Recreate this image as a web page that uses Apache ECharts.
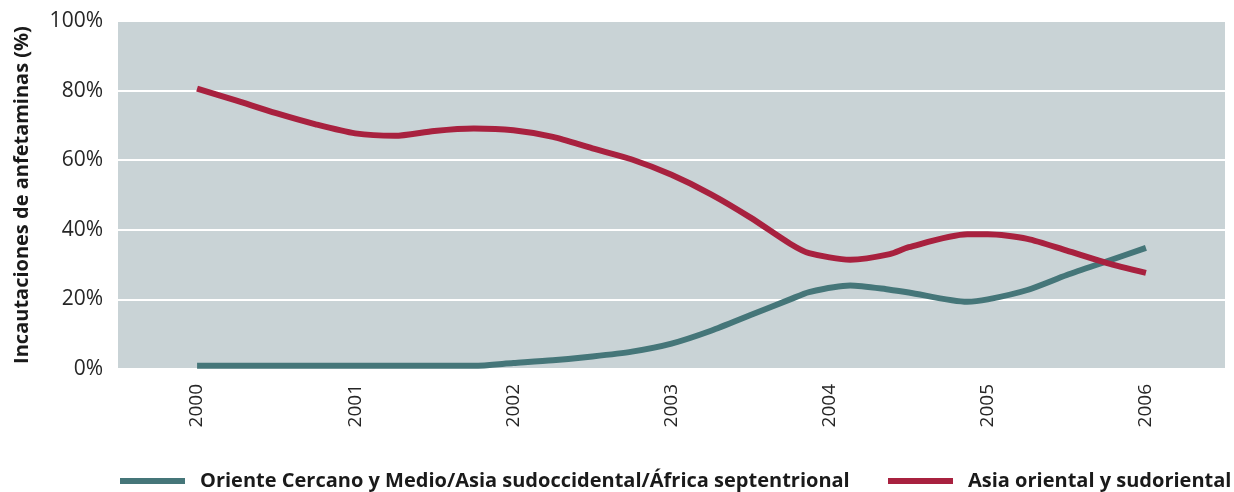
<!DOCTYPE html>
<html>
<head>
<meta charset="utf-8">
<script src="https://cdn.jsdelivr.net/npm/echarts@6/dist/echarts.min.js"></script>
<style>
  html, body { margin: 0; padding: 0; background: #ffffff; }
  #chart { width: 1234px; height: 492px; }
</style>
</head>
<body>
<div id="chart"></div>
<script>
// Share of amphetamine seizures by region, 2000-2006 (positions in years)
const years = [
  2000, 2000.25, 2000.5, 2000.75, 2001, 2001.25, 2001.5, 2001.75,
  2002, 2002.25, 2002.5, 2002.75, 2003, 2003.25, 2003.5, 2003.75,
  2003.87, 2004.13, 2004.38, 2004.5, 2004.87, 2005, 2005.25, 2005.5,
  2005.75, 2006
];
const nearMiddleEast = [
  0.9, 0.9, 0.9, 0.9, 0.9, 0.9, 0.9, 0.9,
  1.7, 2.5, 3.6, 5.0, 7.3, 11.0, 15.5, 20.0,
  22.1, 24.0, 22.8, 22.0, 19.3, 20.0, 22.7, 27.0,
  30.9, 34.8
];
const eastSouthEastAsia = [
  80.6, 77.1, 73.5, 70.3, 67.7, 67.0, 68.4, 69.1,
  68.6, 66.7, 63.4, 60.2, 55.8, 50.2, 43.5, 36.0,
  33.3, 31.4, 33.0, 35.0, 38.7, 38.7, 37.4, 34.0,
  30.5, 27.6
];
const seriesNames = [
  'Oriente Cercano y Medio/Asia sudoccidental/África septentrional',
  'Asia oriental y sudoriental'
];
const yTicks = [0, 20, 40, 60, 80, 100];
const yAxisTitle = 'Incautaciones de anfetaminas (%)';

const GREEN = '#457679';
const RED = '#a8213f';
const FONT = '"Open Sans", "Noto Sans", sans-serif';

const pairs = (vals) => years.map((y, i) => [y, vals[i]]);

// one legend block per series so the long label never pushes the other one to a new row
const legendBase = {
  top: 466,
  itemWidth: 65, itemHeight: 6,
  icon: 'rect',
  textStyle: { fontFamily: FONT, fontWeight: 'bold', fontSize: 20, color: '#1a1a1a', padding: [0, 0, 0, 10] }
};

const chart = echarts.init(document.getElementById('chart'), null, { renderer: 'canvas' });
chart.setOption({
  animation: false,
  backgroundColor: '#ffffff',
  grid: {
    left: 118, right: 9, top: 21, bottom: 123,
    show: true, backgroundColor: '#c9d3d6', borderWidth: 0
  },
  legend: [
    Object.assign({}, legendBase, { left: 115, data: [seriesNames[0]] }),
    Object.assign({}, legendBase, { left: 883, data: [seriesNames[1]] })
  ],
  xAxis: {
    type: 'value',
    min: 1999.5, max: 2006.5, interval: 0.5,
    axisLine: { show: false },
    axisTick: { show: false },
    splitLine: { show: false },
    axisLabel: {
      rotate: 90, margin: 15,
      fontFamily: FONT, fontSize: 19, color: '#262626',
      formatter: (v) => Number.isInteger(v) ? String(v) : ''
    }
  },
  yAxis: {
    type: 'value',
    min: yTicks[0], max: yTicks[yTicks.length - 1], interval: 20,
    name: yAxisTitle,
    nameLocation: 'middle', nameRotate: 90, nameGap: 86,
    nameTextStyle: { fontFamily: FONT, fontWeight: 'bold', fontSize: 20, color: '#1a1a1a' },
    axisLine: { show: false },
    axisTick: { show: false },
    axisLabel: {
      margin: 15, fontFamily: FONT, fontSize: 21, color: '#262626',
      formatter: (v) => v + '%'
    },
    splitLine: { show: true, lineStyle: { color: '#ffffff', width: 2 } }
  },
  series: [
    {
      name: seriesNames[0], type: 'line', data: pairs(nearMiddleEast),
      showSymbol: false, smooth: 0.25,
      lineStyle: { color: GREEN, width: 6, cap: 'butt', join: 'round' },
      itemStyle: { color: GREEN }
    },
    {
      name: seriesNames[1], type: 'line', data: pairs(eastSouthEastAsia),
      showSymbol: false, smooth: 0.25,
      lineStyle: { color: RED, width: 6, cap: 'butt', join: 'round' },
      itemStyle: { color: RED }
    }
  ]
});
</script>
</body>
</html>
